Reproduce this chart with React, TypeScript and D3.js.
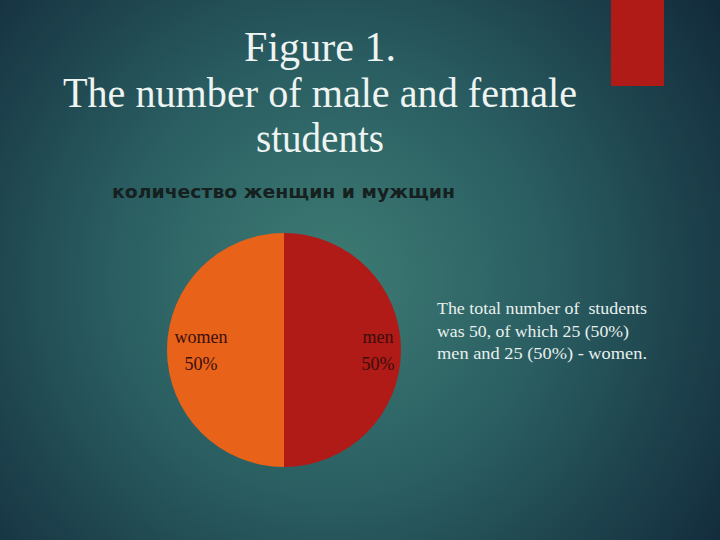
import React from "react";
import * as d3 from "d3";

const categories = ["men", "women"];
const values = [25, 25];
const percentLabels = ["50%", "50%"];
const colors = ["#B01A17", "#E8621A"];
const titleLines = ["Figure 1.", "The number of male and female", "students"];
const chartTitle = "количество женщин и мужщин";
const noteLines = [
  "The total number of  students",
  "was 50, of which 25 (50%)",
  "men and 25 (50%) - women.",
];

export default function App() {
  const W = 720, H = 540;
  const cx = 284, cy = 350, r = 117;
  const pie = d3.pie<number>().sort(null).startAngle(0).endAngle(2 * Math.PI);
  const arcs = pie(values);
  const arc = d3.arc<d3.PieArcDatum<number>>().innerRadius(0).outerRadius(r);
  const labelPos = [
    { x: 378, y: 343 },
    { x: 201, y: 343 },
  ];
  const titleWidths = [152, 514, 128];
  const noteWidths = [210, 192, 210];
  return (
    <svg width={W} height={H} style={{ position: "absolute", left: 0, top: 0, display: "block" }}>
      <defs>
        <radialGradient id="bg" cx="330" cy="280" r="480" gradientUnits="userSpaceOnUse">
          <stop offset="0" stopColor="#3E7C74" />
          <stop offset="0.45" stopColor="#2A5E62" />
          <stop offset="1" stopColor="#122A3A" />
        </radialGradient>
      </defs>
      <rect x={0} y={0} width={W} height={H} fill="url(#bg)" />
      <rect x={611} y={0} width={53} height={86} fill="#B01A17" />
      {titleLines.map((t, i) => (
        <text
          key={i}
          x={320}
          y={61 + i * 45.5}
          textAnchor="middle"
          fontFamily="'Liberation Serif', 'Times New Roman', serif"
          fontSize={43}
          fill="#EEF4F2"
          textLength={titleWidths[i]}
          lengthAdjust="spacingAndGlyphs"
        >
          {t}
        </text>
      ))}
      <text
        x={112}
        y={198}
        fontFamily="'DejaVu Sans', sans-serif"
        fontWeight="bold"
        fontSize={18}
        fill="#15201F"
        textLength={343}
        lengthAdjust="spacingAndGlyphs"
      >
        {chartTitle}
      </text>
      <g transform={`translate(${cx},${cy})`}>
        {arcs.map((a, i) => (
          <path key={i} d={arc(a) || ""} fill={colors[i]} />
        ))}
      </g>
      {arcs.map((a, i) => (
        <g key={i} fontFamily="'Liberation Serif', 'Times New Roman', serif" fontSize={18} fill="#3A0F0C" textAnchor="middle">
          <text x={labelPos[i].x} y={labelPos[i].y}>{categories[i]}</text>
          <text x={labelPos[i].x} y={labelPos[i].y + 27}>{percentLabels[i]}</text>
        </g>
      ))}
      {noteLines.map((t, i) => (
        <text
          key={i}
          x={437}
          y={314 + i * 22.5}
          fontFamily="'Liberation Serif', 'Times New Roman', serif"
          fontSize={17}
          fill="#E9F0EE"
          style={{ whiteSpace: "pre" }}
          textLength={noteWidths[i]}
          lengthAdjust="spacingAndGlyphs"
        >
          {t}
        </text>
      ))}
    </svg>
  );
}
